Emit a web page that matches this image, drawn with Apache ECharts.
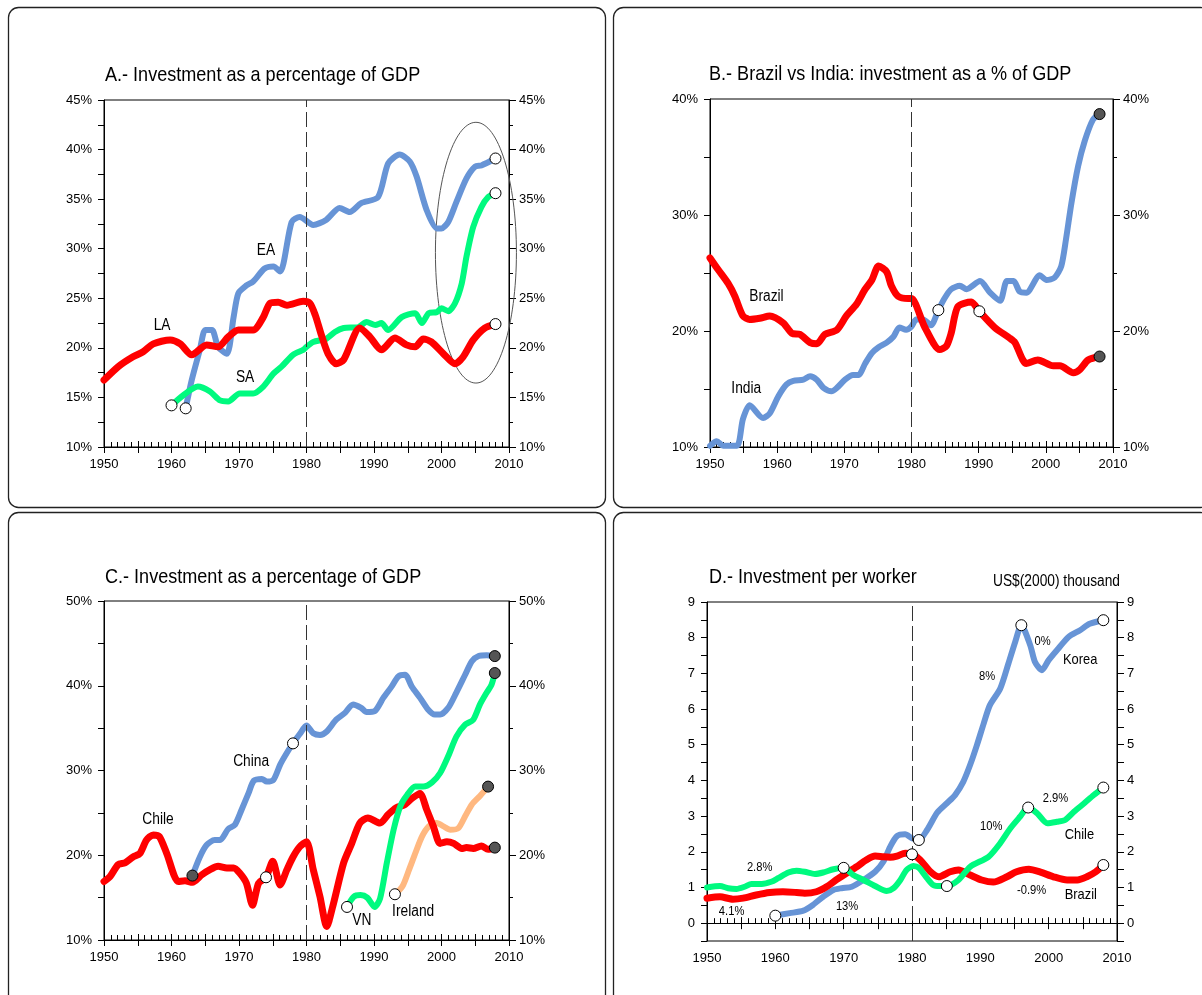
<!DOCTYPE html>
<html>
<head>
<meta charset="utf-8">
<title>Investment charts</title>
<script src="https://cdn.jsdelivr.net/npm/echarts@6/dist/echarts.min.js"></script>
<style>
html, body { margin: 0; padding: 0; background: #fff; }
#chart { width: 1202px; height: 995px; }
</style>
</head>
<body>
<div id="chart"></div>
<script>
// ---- A: investment as % of GDP (regions) ----
const laData = [[1950,16.75],[1952.1,18.1],[1954.3,19.1],[1955.8,19.6],[1957.3,20.4],[1959.8,20.8],[1961.3,20.4],[1963,19.3],[1965.2,20.3],[1966.9,20.1],[1968.4,21.1],[1969.9,21.8],[1972.1,21.8],[1973.6,23.1],[1974.6,24.5],[1975.8,24.6],[1977.1,24.3],[1979.5,24.7],[1980.5,24.5],[1981.3,23.3],[1982.2,21.3],[1983.2,19.4],[1984.4,18.4],[1985.5,18.8],[1987.9,22.0],[1989.4,21.1],[1991.1,19.8],[1993.1,21.0],[1994.8,20.3],[1996.1,20.1],[1997.3,20.9],[1998.5,20.6],[2000.3,19.4],[2002,18.4],[2003.2,19.1],[2004.7,20.8],[2006.4,22.0],[2008,22.4]];
const eaData = [[1962.1,13.9],[1963,16.75],[1964.2,19.8],[1965,21.8],[1966,21.8],[1966.9,20.1],[1968.2,19.4],[1969.2,23.1],[1969.9,25.5],[1971.1,26.3],[1972.1,26.7],[1973.8,28.0],[1975.1,28.2],[1976.1,27.7],[1977.8,32.7],[1979,33.2],[1981,32.4],[1982.9,32.9],[1984.9,34.1],[1986.4,33.7],[1988.1,34.6],[1990.6,35.2],[1992.1,38.6],[1993.8,39.5],[1995.3,38.8],[1996.3,37.3],[1997.8,33.9],[1999.3,32.05],[2000,32.05],[2001,32.7],[2002.2,34.7],[2003.7,37.1],[2005,38.3],[2005.9,38.4],[2008,39.1]];
const saData = [[1960,14.2],[1961.7,15.2],[1963.9,16.1],[1965.7,15.6],[1967.2,14.7],[1968.4,14.6],[1970.1,15.4],[1972.1,15.4],[1973.6,16.1],[1975.1,17.4],[1976.3,18.1],[1978,19.3],[1979.5,19.8],[1980,20.1],[1981,20.6],[1982.9,20.9],[1984.2,21.6],[1985.5,22.0],[1987.7,22.1],[1988.9,22.6],[1990.2,22.3],[1991.1,22.5],[1992.1,21.8],[1994.1,23.1],[1996.1,23.5],[1997.1,22.5],[1998.1,23.5],[1999.3,23.6],[2000,24.0],[2001,23.7],[2002,24.5],[2003,26.5],[2003.7,29.2],[2004.7,32.2],[2005.9,34.2],[2006.9,35.2],[2008,35.6]];
const aOpenMarks = [[1960,14.2],[1962.1,13.9],[2008,39.1],[2008,35.6],[2008,22.4]];
const aLabels = [['EA',1974.0,29.8],['LA',1958.6,22.2],['SA',1970.9,17.05]];
const aEllipse = [[2005.1,29.6,6.0,13.15]]; // centre year, centre %, half width (years), half height (%)

// ---- B: Brazil vs India ----
const brData = [[1950,26.3],[1951.2,25.3],[1952.7,24.1],[1953.7,23.0],[1954.9,21.3],[1955.9,21.0],[1957.4,21.1],[1958.9,21.3],[1960.9,20.7],[1962.2,19.8],[1963.4,19.7],[1964.9,19.0],[1965.9,18.9],[1967.1,19.7],[1968.9,20.1],[1970.3,21.3],[1971.8,22.3],[1973.1,23.6],[1974.1,24.4],[1975.1,25.6],[1976.3,25.1],[1977,23.9],[1978,23.0],[1979.5,22.8],[1980,22.8],[1982,20.3],[1984.2,18.4],[1985.2,18.7],[1985.9,19.8],[1986.9,22.1],[1988.9,22.5],[1990.1,21.7],[1992.4,20.3],[1994.6,19.4],[1995.4,19.0],[1997.1,17.2],[1998.8,17.5],[2001.1,17.0],[2002.1,17.0],[2004.1,16.4],[2005.1,16.7],[2006.3,17.5],[2008,17.8]];
const inData = [[1950,10.1],[1951,10.5],[1952,10.1],[1954,10.1],[1954.9,12.4],[1955.9,13.6],[1957.9,12.5],[1958.9,12.9],[1960.2,14.4],[1961.4,15.4],[1962.4,15.7],[1963.9,15.8],[1964.9,16.1],[1965.9,15.8],[1966.9,15.1],[1968.1,14.8],[1968.9,15.1],[1970.1,15.8],[1971.3,16.2],[1972.1,16.2],[1973.1,17.2],[1974.1,18.1],[1975.1,18.6],[1976.3,19.0],[1977.3,19.5],[1978.2,20.3],[1979.2,20.1],[1980,20.4],[1980.7,21.0],[1981.7,21.0],[1982.9,20.5],[1984,21.8],[1984.9,22.8],[1985.9,23.6],[1987.2,23.9],[1988.2,23.6],[1990.2,24.3],[1991.7,23.3],[1993.2,22.6],[1994.2,24.3],[1995.2,24.3],[1996.1,23.4],[1997.1,23.3],[1999.1,24.8],[2000.1,24.4],[2001.3,24.6],[2002.3,25.6],[2003,27.9],[2003.8,31.0],[2004.8,34.2],[2005.8,36.4],[2007,38.2],[2008,38.7]];
const bOpenMarks = [[1984,21.8],[1990.1,21.7]];
const bDarkMarks = [[2008,38.7],[2008,17.8]];
const bLabels = [['Brazil',1958.4,23.0],['India',1955.4,15.0]];

// ---- C: investment as % of GDP (countries) ----
const clData = [[1950,16.9],[1950.9,17.5],[1952.1,18.9],[1953.1,19.1],[1954.3,19.8],[1955.3,20.2],[1956.3,21.8],[1957.3,22.4],[1958.2,22.2],[1959.3,20.2],[1961,16.9],[1962,17.0],[1963.1,16.8],[1964.5,17.7],[1965.7,18.3],[1966.9,18.7],[1968.2,18.5],[1969.2,18.5],[1970.1,17.9],[1971.1,16.7],[1972,14.1],[1972.9,16.7],[1974,17.4],[1975,19.3],[1976.1,16.5],[1977.1,18.3],[1978,19.8],[1979,21.0],[1980,21.6],[1981,18.3],[1982,15.1],[1983,11.6],[1983.9,14.0],[1985.5,19.1],[1986.7,21.4],[1987.9,23.8],[1989.1,24.4],[1990.9,23.8],[1992.1,24.8],[1993.3,25.6],[1994.6,26.0],[1995.6,26.7],[1996.8,27.3],[1997.8,25.4],[1998.8,23.4],[1999.8,21.4],[2000.8,21.6],[2001.8,21.4],[2003,20.8],[2003.7,20.9],[2004.7,20.8],[2005.9,21.1],[2006.9,20.7],[2007.9,20.9]];
const cnData = [[1963.1,17.6],[1964.2,19.8],[1965.2,21.2],[1966.4,21.8],[1967.2,21.8],[1968.4,23.1],[1969.4,23.6],[1970.4,25.4],[1971.4,27.3],[1972.2,28.8],[1973.4,29.0],[1974.1,28.7],[1975.1,28.9],[1976.1,30.7],[1977.1,32.1],[1978,33.2],[1979,34.3],[1980,35.3],[1981,34.4],[1982,34.2],[1983,34.6],[1984.4,36.0],[1985.7,36.8],[1986.9,37.8],[1988.1,37.4],[1988.9,36.9],[1990.1,37.0],[1991.4,38.6],[1992.6,39.9],[1993.6,41.1],[1994.6,41.3],[1995.6,39.9],[1996.8,38.6],[1998,37.2],[1999,36.6],[1999.8,36.6],[2001,37.4],[2002.2,39.2],[2003.5,41.3],[2004.5,42.9],[2005.5,43.5],[2006.7,43.6],[2007.9,43.5]];
const vnData = [[1986,13.9],[1987,15.1],[1988,15.3],[1989,15.0],[1990.1,13.9],[1990.9,14.9],[1991.9,19.1],[1992.9,23.0],[1993.9,25.8],[1994.9,27.1],[1996.1,28.1],[1997.3,28.1],[1998.6,28.6],[1999.8,29.7],[2001,31.7],[2002.2,34.0],[2003.5,35.4],[2004.7,36.0],[2005.7,37.8],[2006.7,39.2],[2007.4,40.1],[2007.9,41.5]];
const ieData = [[1993.1,15.4],[1994.2,16.3],[1995.2,18.3],[1996.1,20.2],[1997.1,22.2],[1998.1,23.4],[1999.3,23.8],[2000.3,23.4],[2001.3,23.0],[2002.5,23.2],[2003.5,24.6],[2004.5,26.0],[2005.7,27.0],[2006.9,28.1]];
const cOpenMarks = [[1974,17.4],[1978,33.2],[1986,13.9],[1993.1,15.4]];
const cDarkMarks = [[1963.1,17.6],[2007.9,43.5],[2007.9,41.5],[2006.9,28.1],[2007.9,20.9]];
const cLabels = [['Chile',1958.0,24.2],['China',1971.8,31.1],['VN',1988.2,12.3],['Ireland',1995.8,13.4]];

// ---- D: investment per worker, US$(2000) thousand ----
const krData = [[1960,0.21],[1962.1,0.28],[1964.1,0.35],[1965.5,0.51],[1967,0.74],[1968.5,0.93],[1969.7,0.98],[1971.2,1.02],[1972.9,1.21],[1974.6,1.44],[1975.8,1.72],[1976.8,2.14],[1977.8,2.44],[1979,2.49],[1980,2.38],[1981,2.33],[1982.2,2.61],[1983.7,3.10],[1985.1,3.36],[1986.3,3.59],[1987.5,3.96],[1988.5,4.43],[1989.5,4.99],[1990.5,5.60],[1991.4,6.11],[1992.9,6.57],[1994.1,7.27],[1995.1,7.88],[1996,8.35],[1997.3,7.79],[1998,7.32],[1999,7.09],[2000,7.37],[2001.4,7.69],[2002.9,8.02],[2004.6,8.21],[2006,8.39],[2008,8.49]];
const dChData = [[1950,1.00],[1951.9,1.04],[1953.1,0.98],[1954.3,0.96],[1955.5,1.02],[1956.5,1.10],[1958,1.10],[1959.4,1.16],[1960.4,1.26],[1961.9,1.42],[1963.1,1.47],[1964.3,1.44],[1965.8,1.38],[1967,1.42],[1968.5,1.51],[1970,1.55],[1971.4,1.35],[1972.9,1.21],[1974.6,1.04],[1976.3,0.90],[1977.3,0.98],[1978.3,1.21],[1979.2,1.49],[1980.2,1.60],[1981,1.55],[1982.2,1.26],[1983.1,1.07],[1984.1,1.04],[1985.1,1.04],[1986.8,1.21],[1988.5,1.58],[1991.2,1.86],[1992.9,2.24],[1994.4,2.66],[1995.8,2.98],[1997,3.24],[1998.3,3.08],[1999.8,2.80],[2001.2,2.84],[2002.4,2.89],[2003.7,3.12],[2005.2,3.36],[2006.6,3.59],[2008,3.80]];
const dBrData = [[1950,0.70],[1951.9,0.74],[1953.8,0.67],[1955.3,0.70],[1957.2,0.79],[1959.2,0.86],[1961.1,0.88],[1963.1,0.86],[1964.3,0.84],[1966,0.88],[1967.5,1.02],[1968.9,1.21],[1970.4,1.40],[1971.9,1.58],[1973.3,1.77],[1974.6,1.88],[1975.8,1.86],[1976.8,1.85],[1977.8,1.88],[1979,1.96],[1980,1.93],[1981.2,1.77],[1982.7,1.44],[1983.9,1.30],[1985.6,1.44],[1986.8,1.49],[1988.5,1.35],[1990.2,1.21],[1991.9,1.15],[1993.9,1.30],[1995.3,1.44],[1997.1,1.51],[1998.8,1.43],[2000.7,1.30],[2002.7,1.21],[2004.2,1.21],[2005.6,1.30],[2006.9,1.44],[2008,1.63]];
const dOpenMarks = [[1960,0.21],[1981,2.33],[1996,8.35],[2008,8.49],[1970,1.55],[1985.1,1.04],[1997,3.24],[2008,3.80],[1980,1.93],[2008,1.63]];
const dNameLabels = [['Korea',2004.6,7.37],['Chile',2004.5,2.47],['Brazil',2004.7,0.79]];
const dRateLabels = [['2.8%',1957.7,1.55],['4.1%',1953.6,0.32],['13%',1970.5,0.46],['8%',1991.0,6.92],['0%',1999.1,7.90],['10%',1991.6,2.72],['2.9%',2001.0,3.50],['-0.9%',1997.5,0.91]];

const panelTitles = [
  ['A.- Investment as a percentage of GDP', 105, 65],
  ['B.- Brazil vs India: investment as a % of GDP', 709, 64],
  ['C.- Investment as a percentage of GDP', 105, 567],
  ['D.- Investment per worker', 709, 567],
];

const FONT = '"Liberation Sans", Arial, Helvetica, sans-serif';
const NARROW = 0.86; // the original lettering is a condensed sans
const BLUE = '#6794d6';
const RED = '#ff0000';
const GREEN = '#00fa7f';
const ORANGE = '#ffb880';

const grids = [
  { left: 104, top: 100, width: 405, height: 347 },
  { left: 710, top: 99, width: 403, height: 348 },
  { left: 104, top: 601, width: 405, height: 339 },
  { left: 707, top: 602, width: 410, height: 339 },
];

function xAxes(g) {
  return [
    {
      gridIndex: g, type: 'value', position: 'bottom', min: 1950, max: 2010, interval: 5,
      axisLine: { lineStyle: { color: '#000', width: 1 } },
      axisTick: { inside: true, length: 6, lineStyle: { color: '#000' } },
      minorTick: { show: true, splitNumber: 5, length: 5, lineStyle: { color: '#000' } },
      splitLine: { show: false },
      axisLabel: { formatter: v => (v % 10 === 0 ? String(v) : ''), color: '#000', fontSize: 13, fontFamily: FONT, margin: 11 },
    },
    {
      gridIndex: g, type: 'value', position: 'bottom', min: 1950, max: 2010, interval: 5,
      axisLine: { show: false },
      axisTick: { inside: false, length: 6, lineStyle: { color: '#000' } },
      axisLabel: { show: false },
      splitLine: { show: false },
    },
  ];
}

function yAxes(g, min, max, interval, minorSplit, fmt) {
  const base = {
    gridIndex: g, type: 'value', min: min, max: max, interval: interval,
    axisLine: { show: true, lineStyle: { color: '#000', width: 1 } },
    splitLine: { show: false },
  };
  const label = { formatter: fmt, color: '#000', fontSize: 13, fontFamily: FONT };
  return [
    Object.assign({}, base, {
      position: 'left',
      axisTick: { show: true, inside: false, length: 6, lineStyle: { color: '#000' } },
      minorTick: { show: minorSplit > 1, splitNumber: minorSplit, length: 6, lineStyle: { color: '#000' } },
      axisLabel: Object.assign({ margin: 12 }, label),
    }),
    Object.assign({}, base, {
      position: 'right',
      axisTick: { show: true, inside: false, length: 7, lineStyle: { color: '#000' } },
      minorTick: { show: minorSplit > 1, splitNumber: minorSplit, length: 4, lineStyle: { color: '#000' } },
      axisLabel: Object.assign({ margin: 10 }, label),
    }),
  ];
}

const pct = v => (v % 5 === 0 ? v + '%' : '');
const units = v => (v >= 0 && Number.isInteger(v) ? String(v) : '');

function line(g, data, color, width, z) {
  return {
    type: 'line', xAxisIndex: g * 2, yAxisIndex: g * 2, data: data,
    smooth: 0.25, symbol: 'none', animation: false, z: z,
    lineStyle: { color: color, width: width, cap: 'round', join: 'round' },
  };
}

function marks(g, data, fill) {
  return {
    type: 'scatter', xAxisIndex: g * 2, yAxisIndex: g * 2, data: data,
    symbol: 'circle', symbolSize: 11, animation: false, silent: true, z: 10,
    itemStyle: { color: fill, borderColor: '#000', borderWidth: 1, opacity: 1 },
  };
}

// text placed at data coordinates, squeezed horizontally like the original font
function labels(g, items, size) {
  return {
    type: 'custom', xAxisIndex: g * 2, yAxisIndex: g * 2, silent: true, z: 11,
    data: items.map(d => [d[1], d[2]]),
    renderItem: function (params, api) {
      const p = api.coord([api.value(0), api.value(1)]);
      return {
        type: 'text', x: p[0], y: p[1], scaleX: NARROW, z2: 20,
        style: {
          text: items[params.dataIndex][0], fill: '#000',
          fontSize: size, fontFamily: FONT, align: 'center', verticalAlign: 'middle',
        },
      };
    },
  };
}

function divider(g, extra) {
  const lines = [{ xAxis: 1980, lineStyle: { type: [15, 5], color: '#333', width: 1 } }];
  if (extra) lines.push(extra);
  return {
    type: 'line', xAxisIndex: g * 2, yAxisIndex: g * 2, data: [], animation: false,
    markLine: { symbol: 'none', silent: true, label: { show: false }, data: lines },
  };
}

function panelBox(x, y) {
  return {
    type: 'rect', silent: true, z: 0,
    shape: { x: x, y: y, width: 597, height: 500, r: 10 },
    style: { fill: 'none', stroke: '#222', lineWidth: 1.3 },
  };
}

const graphics = [
  panelBox(8.5, 7.5),
  panelBox(613.5, 7.5),
  panelBox(8.5, 512.5),
  panelBox(613.5, 512.5),
  {
    type: 'text', x: 993, y: 574, scaleX: NARROW, silent: true,
    style: { text: 'US$(2000) thousand', fill: '#000', fontSize: 16, fontFamily: FONT, verticalAlign: 'top' },
  },
];
panelTitles.forEach(t => {
  graphics.push({
    type: 'text', x: t[1], y: t[2], scaleX: NARROW, silent: true,
    style: { text: t[0], fill: '#000', fontSize: 21, fontFamily: FONT, verticalAlign: 'top' },
  });
});

const chart = echarts.init(document.getElementById('chart'), null, { renderer: 'canvas' });
chart.setOption({
  animation: false,
  backgroundColor: '#fff',
  graphic: graphics,
  grid: grids.map(g => Object.assign({ show: true, borderColor: '#000', borderWidth: 1, backgroundColor: 'transparent' }, g)),
  xAxis: [].concat(xAxes(0), xAxes(1), xAxes(2), xAxes(3)),
  yAxis: [].concat(
    yAxes(0, 10, 45, 5, 2, pct),
    yAxes(1, 10, 40, 10, 2, v => v + '%'),
    yAxes(2, 10, 50, 10, 2, v => v + '%'),
    yAxes(3, -0.5, 9, 0.5, 0, units)
  ),
  series: [
    // A
    divider(0),
    {
      type: 'custom', xAxisIndex: 0, yAxisIndex: 0, data: aEllipse, silent: true, z: 1,
      renderItem: function (params, api) {
        const c = api.coord([api.value(0), api.value(1)]);
        const s = api.size([api.value(2), api.value(3)]);
        return {
          type: 'ellipse',
          shape: { cx: c[0], cy: c[1], rx: s[0], ry: s[1] },
          style: { fill: 'none', stroke: '#555', lineWidth: 1 },
        };
      },
    },
    line(0, eaData, BLUE, 6, 3),
    line(0, saData, GREEN, 6, 4),
    line(0, laData, RED, 7, 5),
    marks(0, aOpenMarks, '#fff'),
    labels(0, aLabels, 16),
    // B
    divider(1),
    line(1, inData, BLUE, 6, 3),
    line(1, brData, RED, 7, 4),
    marks(1, bOpenMarks, '#fff'),
    marks(1, bDarkMarks, '#555'),
    labels(1, bLabels, 16),
    // C
    divider(2),
    line(2, cnData, BLUE, 6, 3),
    line(2, ieData, ORANGE, 6, 4),
    line(2, clData, RED, 7, 5),
    line(2, vnData, GREEN, 6, 6),
    marks(2, cOpenMarks, '#fff'),
    marks(2, cDarkMarks, '#555'),
    labels(2, cLabels, 16),
    // D
    divider(3, { yAxis: 0, lineStyle: { type: 'solid', color: '#000', width: 1 } }),
    line(3, krData, BLUE, 6, 3),
    line(3, dBrData, RED, 7, 4),
    line(3, dChData, GREEN, 6, 5),
    marks(3, dOpenMarks, '#fff'),
    labels(3, dNameLabels, 15),
    labels(3, dRateLabels, 13),
  ],
});
</script>
</body>
</html>
